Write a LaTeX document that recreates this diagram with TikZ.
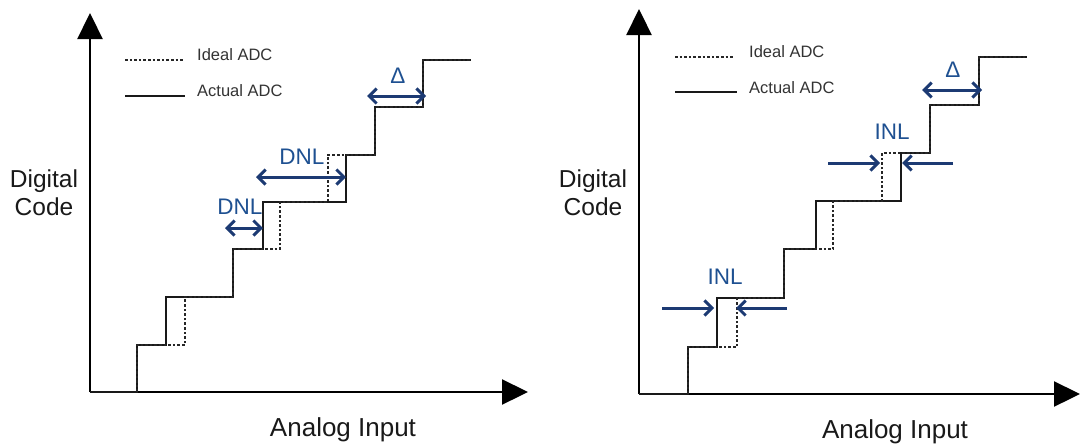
\documentclass[tikz,border=0pt]{standalone}
\usepackage{fontspec}
\setmainfont{Liberation Sans}
\usetikzlibrary{arrows.meta}
\definecolor{arrowblue}{RGB}{28,58,115}
\definecolor{textblue}{RGB}{30,80,145}
\begin{document}
\begin{tikzpicture}[x=1pt,y=-1pt,
 actual/.style={line width=2.2pt, black!90, line join=miter},
 ideal/.style={line width=2.2pt, black!85, dash pattern=on 2.6pt off 2pt},
 axisarrow/.style={line width=2.3pt, black, -{Triangle[length=26pt,width=25pt]}},
 dblarrow/.style={line width=3pt, arrowblue, {Straight Barb[length=7.5pt,width=15pt]}-{Straight Barb[length=7.5pt,width=15pt]}},
 onearrow/.style={line width=3pt, arrowblue, -{Straight Barb[length=7.5pt,width=15pt]}},
 axlab/.style={font=\fontsize{24.5}{28}\selectfont, align=center, inner sep=0pt, text=black!90},
 xlab/.style={font=\fontsize{26}{30}\selectfont, inner sep=0pt, text=black!90, anchor=base},
 leg/.style={font=\fontsize{16.5}{18}\selectfont, anchor=west, inner sep=0pt, text=black!80},
 bluelab/.style={font=\fontsize{22.5}{26}\selectfont, text=textblue, inner sep=0pt}]
\useasboundingbox (0,0) rectangle (1081,445);

% ---------------- Left panel ----------------
\coordinate (Lo) at (90,392);
\coordinate (Lx) at (528,392);
\coordinate (Ly) at (90,13);
\draw[axisarrow] (Lo) -- (Lx);
\draw[axisarrow] (Lo) -- (Ly);

\draw[actual] (90,392) -- (137,392) -- (137,345) -- (166,345) -- (166,297) -- (233,297) -- (233,249) -- (263,249) -- (263,202) -- (346,202) -- (346,155) -- (375,155) -- (375,107) -- (423,107) -- (423,60) -- (471,60);
\draw[ideal] (137,392) -- (137,345) -- (185,345) -- (185,297) -- (233,297) -- (233,249) -- (280,249) -- (280,202) -- (328,202) -- (328,155) -- (375,155) -- (375,107) -- (423,107) -- (423,60) -- (471,60);

\coordinate (Lli1) at (125,60); \coordinate (Lli2) at (183,60);
\coordinate (Lla1) at (125,96); \coordinate (Lla2) at (185,96);
\draw[ideal] (Lli1) -- (Lli2);
\draw[actual] (Lla1) -- (Lla2);
\node[leg] (Llegi) at (197,55) {Ideal ADC};
\node[leg] (Llega) at (197,91) {Actual ADC};

\coordinate (Ld1a) at (225,228); \coordinate (Ld1b) at (263,228);
\draw[dblarrow] (Ld1a) -- (Ld1b);
\node[bluelab] (Ldnl1) at (240,207) {DNL};
\coordinate (Ld2a) at (256,177); \coordinate (Ld2b) at (346,177);
\draw[dblarrow] (Ld2a) -- (Ld2b);
\node[bluelab] (Ldnl2) at (302,157) {DNL};
\coordinate (Lda) at (367,96); \coordinate (Ldb) at (426,96);
\draw[dblarrow] (Lda) -- (Ldb);
\node[bluelab] (Ldelta) at (398,76) {Δ};

\node[axlab] (Lyl) at (44,193) {Digital\\Code};
\node[xlab] (Lxl) at (343,436) {Analog Input};

% ---------------- Right panel ----------------
\coordinate (Ro) at (639,394);
\coordinate (Rx) at (1080,394);
\coordinate (Ry) at (639,9);
\draw[axisarrow] (Ro) -- (Rx);
\draw[axisarrow] (Ro) -- (Ry);

\draw[actual] (639,394) -- (688,394) -- (688,347) -- (717,347) -- (717,298) -- (784,298) -- (784,249) -- (816,249) -- (816,201) -- (901,201) -- (901,153) -- (930,153) -- (930,105) -- (979,105) -- (979,57) -- (1027,57);
\draw[ideal] (688,394) -- (688,347) -- (737,347) -- (737,298) -- (784,298) -- (784,249) -- (833,249) -- (833,201) -- (882,201) -- (882,153) -- (930,153) -- (930,105) -- (979,105) -- (979,57) -- (1027,57);

\coordinate (Rli1) at (675,57); \coordinate (Rli2) at (734,57);
\coordinate (Rla1) at (675,92); \coordinate (Rla2) at (737,92);
\draw[ideal] (Rli1) -- (Rli2);
\draw[actual] (Rla1) -- (Rla2);
\node[leg] (Rlegi) at (749,52) {Ideal ADC};
\node[leg] (Rlega) at (749,88) {Actual ADC};

\coordinate (Ri1a) at (662,308); \coordinate (Ri1b) at (714,308);
\coordinate (Ri1c) at (787,308); \coordinate (Ri1d) at (736,308);
\draw[onearrow] (Ri1a) -- (Ri1b);
\draw[onearrow] (Ri1c) -- (Ri1d);
\node[bluelab] (Rinl1) at (725,277) {INL};
\coordinate (Ri2a) at (828,163); \coordinate (Ri2b) at (880,163);
\coordinate (Ri2c) at (953,163); \coordinate (Ri2d) at (902,163);
\draw[onearrow] (Ri2a) -- (Ri2b);
\draw[onearrow] (Ri2c) -- (Ri2d);
\node[bluelab] (Rinl2) at (892,132) {INL};
\coordinate (Rda) at (922,90); \coordinate (Rdb) at (982,90);
\draw[dblarrow] (Rda) -- (Rdb);
\node[bluelab] (Rdelta) at (953,70) {Δ};

\node[axlab] (Ryl) at (593,193) {Digital\\Code};
\node[xlab] (Rxl) at (895,438) {Analog Input};
\end{tikzpicture}
\end{document}
